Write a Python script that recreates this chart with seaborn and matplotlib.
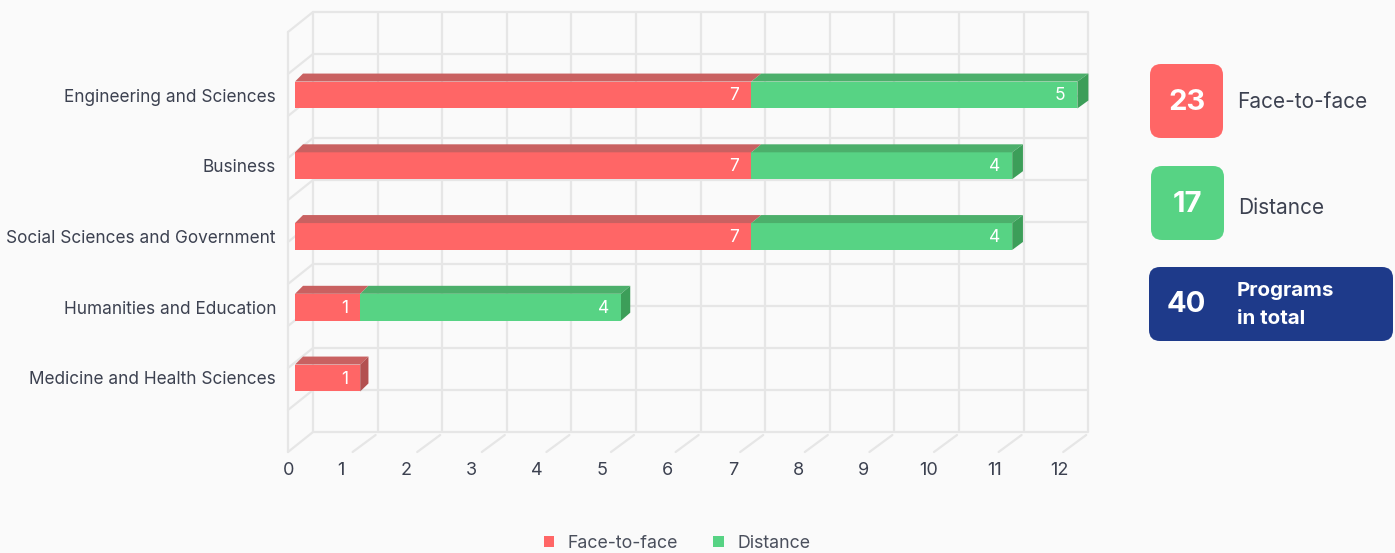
import numpy as np
import pandas as pd
import matplotlib
matplotlib.use("Agg")
import matplotlib.pyplot as plt
from matplotlib.patches import Polygon, FancyBboxPatch, Patch
import seaborn as sns

# ---------------- data ----------------
categories = ["Engineering and Sciences", "Business", "Social Sciences and Government",
              "Humanities and Education", "Medicine and Health Sciences"]
face_to_face = [7, 7, 7, 1, 1]
distance = [5, 4, 4, 4, 0]
series_names = ["Face-to-face", "Distance"]
x_ticks = list(range(0, 13))
summary_values = [23, 17, 40]
summary_labels = ["Face-to-face", "Distance", "Programs\nin total"]

# ---------------- style ----------------
RED, RED_TOP, RED_SIDE = "#ff6666", "#c96161", "#b35050"
GREEN, GREEN_TOP, GREEN_SIDE = "#57d384", "#4caf6b", "#3c9e59"
NAVY = "#1e3a8a"
GRID = "#e6e6e6"
BG = "#fafafa"
TEXT = "#3c4150"
LEG_TEXT = "#4a4f5c"

sns.set_theme(style="white")
plt.rcParams['font.family'] = ['Inter', 'DejaVu Sans']

W, H = 1395, 553
fig = plt.figure(figsize=(W / 100, H / 100), dpi=100, facecolor=BG)

# pixel geometry of the bar plane
SX, SY = 65.2, 70.75        # pixels per value unit / per category
X0, Y0 = 295, 95            # pixel of value 0 / first category centre
AX_L, AX_R, AX_T, AX_B = 280, 1100, 5, 480
ax = fig.add_axes([AX_L / W, 1 - AX_B / H, (AX_R - AX_L) / W, (AX_B - AX_T) / H])
ax.set_facecolor(BG)

df = pd.DataFrame({"category": categories, "face": face_to_face, "distance": distance})
df["total"] = df["face"] + df["distance"]

BAR_W = 0.38
sns.barplot(data=df, y="category", x="total", color=GREEN, orient="h", width=BAR_W,
            saturation=1, errorbar=None, linewidth=0, ax=ax, zorder=3)
sns.barplot(data=df, y="category", x="face", color=RED, orient="h", width=BAR_W,
            saturation=1, errorbar=None, linewidth=0, ax=ax, zorder=4)

ax.set_xlim((AX_L - X0) / SX, (AX_R - X0) / SX)
ax.set_ylim((AX_B - Y0) / SY, (AX_T - Y0) / SY)
ax.axis("off")

# ---------------- 3D-like frame ----------------
def back_x(v):
    return (313 - X0 + v * 64.6) / SX

def front_label_x(v):
    return (max(289, 275 + 65.4 * v) - X0) / SX

g_top = (12 - Y0) / SY
g_bot = (432 - Y0) / SY
dxd, dyd = -25 / SX, 20 / SY      # depth vector (towards viewer)
lw = 1.6
for v in x_ticks:
    ax.plot([back_x(v), back_x(v)], [g_top, g_bot], color=GRID, lw=lw, zorder=1,
            solid_capstyle="butt")
for yk in np.linspace(g_top, g_bot, 11):
    ax.plot([back_x(0), back_x(x_ticks[-1])], [yk, yk], color=GRID, lw=lw, zorder=1)
    ax.plot([back_x(0), back_x(0) + dxd], [yk, yk + dyd], color=GRID, lw=lw, zorder=1)
ax.plot([back_x(0) + dxd] * 2, [g_top + dyd, g_bot + dyd], color=GRID, lw=lw, zorder=1)
for v in x_ticks[1:]:
    ax.plot([back_x(v) - 2 / SX, back_x(v) + dxd], [g_bot + 3 / SY, g_bot + dyd],
            color=GRID, lw=lw, zorder=1)

for v in x_ticks:
    ax.text(front_label_x(v), (471 - Y0) / SY, str(v),
            ha="center", va="center", fontsize=13, color=TEXT)

# ---------------- bar top / side faces and labels ----------------
tdx_l, tdx_r, tdy = 8 / SX, 11 / SX, 8 / SY
for i, (f, d) in enumerate(zip(face_to_face, distance)):
    top = i - BAR_W / 2
    bot = i + BAR_W / 2
    segs = [(0, f, RED_TOP, RED, RED_SIDE), (f, f + d, GREEN_TOP, GREEN, GREEN_SIDE)]
    segs = [s for s in segs if s[1] > s[0]]
    total = f + d
    for a, b, ctop, cfront, cside in segs:
        ka = tdx_l + (tdx_r - tdx_l) * a / 12
        kb = tdx_l + (tdx_r - tdx_l) * b / 12
        ax.add_patch(Polygon([(a, top), (b, top), (b + kb, top - tdy), (a + ka, top - tdy)],
                             closed=True, facecolor=ctop, edgecolor="none", zorder=5))
        ax.text(b - 12 / SX, i + 1 / SY, str(b - a), ha="right", va="center", fontsize=12.5,
                color="white", zorder=7)
    ke = tdx_l + (tdx_r - tdx_l) * total / 12
    side_col = segs[-1][4]
    ax.add_patch(Polygon([(total, top), (total, bot), (total + ke, bot - tdy),
                          (total + ke, top - tdy)],
                         closed=True, facecolor=side_col, edgecolor="none", zorder=5))
    ax.text((276 - X0) / SX, i + 2 / SY, categories[i], ha="right", va="center",
            fontsize=12.4, color=TEXT)

# ---------------- legend ----------------
handles = [Patch(facecolor=RED, edgecolor="none"), Patch(facecolor=GREEN, edgecolor="none")]
fig.legend(handles, series_names, loc="center", bbox_to_anchor=(677 / W, 1 - 543 / H),
           ncol=2, frameon=False, handlelength=0.6, handleheight=0.6, handletextpad=0.75,
           columnspacing=2.0, fontsize=12.8, labelcolor=LEG_TEXT)

# ---------------- summary boxes ----------------
ov = fig.add_axes([0, 0, 1, 1])
ov.set_xlim(0, W)
ov.set_ylim(H, 0)
ov.axis("off")
ov.patch.set_alpha(0)
boxes = [(1150, 64, 73, 74, RED, 1), (1151, 166, 73, 74, GREEN, 5),
         (1149, 267, 244, 74, NAVY, 0)]
for (bx, by, bw, bh, col, loff), val, lab in zip(boxes, summary_values, summary_labels):
    ov.add_patch(FancyBboxPatch((bx, by), bw, bh,
                                boxstyle="round,pad=0,rounding_size=11",
                                facecolor=col, edgecolor="none"))
    ov.text(bx + 37, by + bh / 2 + 1, str(val), ha="center", va="center",
            fontsize=21, fontweight="bold", color="white")
    if col == NAVY:
        ov.text(1237, by + bh / 2 + 1, lab, ha="left", va="center", fontsize=14.8,
                fontweight="bold", color="white", linespacing=1.7)
    else:
        ov.text(bx + 87, by + bh / 2 + loff, lab, ha="left", va="center", fontsize=15,
                color=TEXT)

fig.savefig("out.png", dpi=100, facecolor=BG)
